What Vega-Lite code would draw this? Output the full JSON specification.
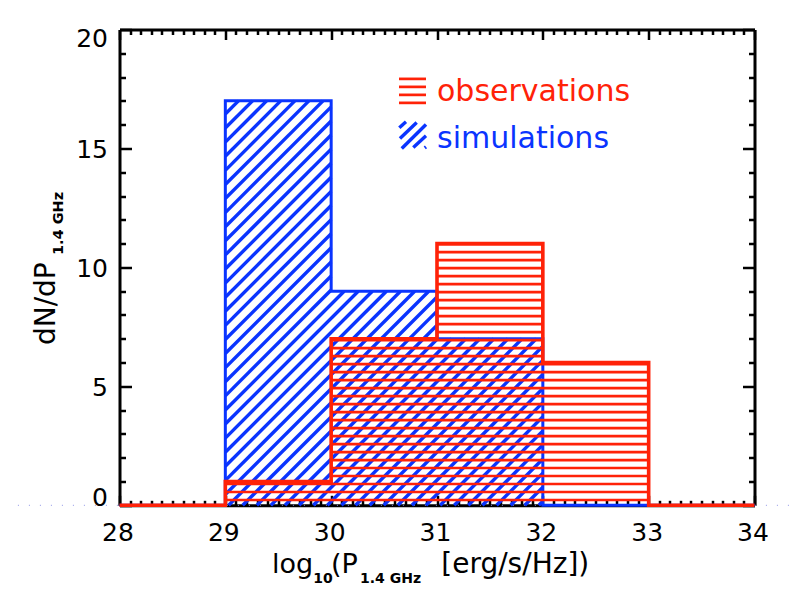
{
  "$schema": "https://vega.github.io/schema/vega-lite/v6.json",
  "background": "white",
  "autosize": "none",
  "padding": {"left": 119.5, "top": 29.5, "right": 38.5, "bottom": 89.7},
  "width": 635,
  "height": 475.8,
  "datasets": {
    "hist": [
      {"series": "simulations", "bin": 28, "count": 0},
      {"series": "simulations", "bin": 29, "count": 17},
      {"series": "simulations", "bin": 30, "count": 9},
      {"series": "simulations", "bin": 31, "count": 7},
      {"series": "simulations", "bin": 32, "count": 0},
      {"series": "simulations", "bin": 33, "count": 0},
      {"series": "simulations", "bin": 34, "count": 0},
      {"series": "observations", "bin": 28, "count": 0},
      {"series": "observations", "bin": 29, "count": 1},
      {"series": "observations", "bin": 30, "count": 7},
      {"series": "observations", "bin": 31, "count": 11},
      {"series": "observations", "bin": 32, "count": 6},
      {"series": "observations", "bin": 33, "count": 0},
      {"series": "observations", "bin": 34, "count": 0}
    ],
    "hatchBlue": [
      {"x": 29, "y": 16.45, "x2": 29.124, "y2": 17},
      {"x": 29, "y": 15.857, "x2": 29.257, "y2": 17},
      {"x": 29, "y": 15.265, "x2": 29.39, "y2": 17},
      {"x": 29, "y": 14.672, "x2": 29.523, "y2": 17},
      {"x": 29, "y": 14.08, "x2": 29.657, "y2": 17},
      {"x": 29, "y": 13.487, "x2": 29.79, "y2": 17},
      {"x": 29, "y": 12.895, "x2": 29.923, "y2": 17},
      {"x": 29, "y": 12.303, "x2": 30, "y2": 16.749},
      {"x": 29, "y": 11.71, "x2": 30, "y2": 16.157},
      {"x": 29, "y": 11.118, "x2": 30, "y2": 15.564},
      {"x": 29, "y": 10.525, "x2": 30, "y2": 14.972},
      {"x": 29, "y": 9.933, "x2": 30, "y2": 14.379},
      {"x": 29, "y": 9.34, "x2": 30, "y2": 13.787},
      {"x": 29, "y": 8.748, "x2": 30, "y2": 13.195},
      {"x": 29, "y": 8.155, "x2": 30, "y2": 12.602},
      {"x": 29, "y": 7.563, "x2": 30, "y2": 12.01},
      {"x": 29, "y": 6.971, "x2": 30, "y2": 11.417},
      {"x": 29, "y": 6.378, "x2": 30, "y2": 10.825},
      {"x": 29, "y": 5.786, "x2": 30, "y2": 10.232},
      {"x": 29, "y": 5.193, "x2": 30, "y2": 9.64},
      {"x": 29, "y": 4.601, "x2": 30, "y2": 9.048},
      {"x": 29, "y": 4.008, "x2": 30.123, "y2": 9},
      {"x": 29, "y": 3.416, "x2": 30.256, "y2": 9},
      {"x": 29, "y": 2.824, "x2": 30.389, "y2": 9},
      {"x": 29, "y": 2.231, "x2": 30.522, "y2": 9},
      {"x": 29, "y": 1.639, "x2": 30.655, "y2": 9},
      {"x": 29, "y": 1.046, "x2": 30.789, "y2": 9},
      {"x": 29, "y": 0.454, "x2": 30.922, "y2": 9},
      {"x": 29.031, "y": 0, "x2": 31, "y2": 8.755},
      {"x": 29.164, "y": 0, "x2": 31, "y2": 8.163},
      {"x": 29.298, "y": 0, "x2": 31, "y2": 7.57},
      {"x": 29.431, "y": 0, "x2": 31.005, "y2": 7},
      {"x": 29.564, "y": 0, "x2": 31.138, "y2": 7},
      {"x": 29.697, "y": 0, "x2": 31.272, "y2": 7},
      {"x": 29.831, "y": 0, "x2": 31.405, "y2": 7},
      {"x": 29.964, "y": 0, "x2": 31.538, "y2": 7},
      {"x": 30.097, "y": 0, "x2": 31.671, "y2": 7},
      {"x": 30.23, "y": 0, "x2": 31.804, "y2": 7},
      {"x": 30.364, "y": 0, "x2": 31.938, "y2": 7},
      {"x": 30.497, "y": 0, "x2": 32, "y2": 6.685},
      {"x": 30.63, "y": 0, "x2": 32, "y2": 6.092},
      {"x": 30.763, "y": 0, "x2": 32, "y2": 5.5},
      {"x": 30.896, "y": 0, "x2": 32, "y2": 4.908},
      {"x": 31.03, "y": 0, "x2": 32, "y2": 4.315},
      {"x": 31.163, "y": 0, "x2": 32, "y2": 3.723},
      {"x": 31.296, "y": 0, "x2": 32, "y2": 3.13},
      {"x": 31.429, "y": 0, "x2": 32, "y2": 2.538},
      {"x": 31.563, "y": 0, "x2": 32, "y2": 1.945},
      {"x": 31.696, "y": 0, "x2": 32, "y2": 1.353},
      {"x": 31.829, "y": 0, "x2": 32, "y2": 0.761},
      {"x": 31.962, "y": 0, "x2": 32, "y2": 0.168},
      {"x": 30.644, "y": 15.866, "x2": 30.707, "y2": 16.118},
      {"x": 30.65, "y": 15.42, "x2": 30.808, "y2": 16.092},
      {"x": 30.667, "y": 15, "x2": 30.896, "y2": 16.008},
      {"x": 30.776, "y": 15.042, "x2": 30.896, "y2": 15.529},
      {"x": 30.884, "y": 15.021, "x2": 30.896, "y2": 15.063}
    ],
    "hatchRed": [
      {"x": 29, "x2": 33, "y": 0.223},
      {"x": 29, "x2": 33, "y": 0.559},
      {"x": 29, "x2": 33, "y": 0.895},
      {"x": 30, "x2": 33, "y": 1.231},
      {"x": 30, "x2": 33, "y": 1.567},
      {"x": 30, "x2": 33, "y": 1.903},
      {"x": 30, "x2": 33, "y": 2.239},
      {"x": 30, "x2": 33, "y": 2.575},
      {"x": 30, "x2": 33, "y": 2.911},
      {"x": 30, "x2": 33, "y": 3.247},
      {"x": 30, "x2": 33, "y": 3.583},
      {"x": 30, "x2": 33, "y": 3.919},
      {"x": 30, "x2": 33, "y": 4.255},
      {"x": 30, "x2": 33, "y": 4.591},
      {"x": 30, "x2": 33, "y": 4.927},
      {"x": 30, "x2": 33, "y": 5.263},
      {"x": 30, "x2": 33, "y": 5.599},
      {"x": 30, "x2": 33, "y": 5.935},
      {"x": 30, "x2": 32, "y": 6.271},
      {"x": 30, "x2": 32, "y": 6.607},
      {"x": 30, "x2": 32, "y": 6.943},
      {"x": 31, "x2": 32, "y": 7.279},
      {"x": 31, "x2": 32, "y": 7.615},
      {"x": 31, "x2": 32, "y": 7.951},
      {"x": 31, "x2": 32, "y": 8.287},
      {"x": 31, "x2": 32, "y": 8.623},
      {"x": 31, "x2": 32, "y": 8.959},
      {"x": 31, "x2": 32, "y": 9.295},
      {"x": 31, "x2": 32, "y": 9.631},
      {"x": 31, "x2": 32, "y": 9.967},
      {"x": 31, "x2": 32, "y": 10.303},
      {"x": 31, "x2": 32, "y": 10.639},
      {"x": 31, "x2": 32, "y": 10.975},
      {"x": 30.641, "x2": 30.896, "y": 17.924},
      {"x": 30.641, "x2": 30.896, "y": 17.588},
      {"x": 30.641, "x2": 30.896, "y": 17.252},
      {"x": 30.641, "x2": 30.896, "y": 16.916}
    ]
  },
  "resolve": {"axis": {"x": "independent", "y": "independent"}},
  "layer": [
    {
      "data": {"values": [{"x": 27.04, "x2": 34.34, "y": 0}]},
      "mark": {"type": "rule", "color": "#8f95e6", "strokeWidth": 1, "strokeDash": [1, 10]},
      "encoding": {
        "x": {
          "field": "x",
          "type": "quantitative",
          "scale": {"domain": [28, 34], "nice": false, "zero": false},
          "axis": {
            "orient": "bottom",
            "title": null,
            "values": [28,28.1,28.2,28.3,28.4,28.5,28.6,28.7,28.8,28.9,29,29.1,29.2,29.3,29.4,29.5,29.6,29.7,29.8,29.9,30,30.1,30.2,30.3,30.4,30.5,30.6,30.7,30.8,30.9,31,31.1,31.2,31.3,31.4,31.5,31.6,31.7,31.8,31.9,32,32.1,32.2,32.3,32.4,32.5,32.6,32.7,32.8,32.9,33,33.1,33.2,33.3,33.4,33.5,33.6,33.7,33.8,33.9,34],
            "grid": false,
            "domainColor": "black",
            "domainWidth": 3,
            "tickColor": "black",
            "tickWidth": 2.5,
            "tickSize": {"condition": {"test": "abs(datum.value - round(datum.value)) < 0.01", "value": -10}, "value": -5},
            "labelExpr": "abs(datum.value - round(datum.value)) < 0.01 ? format(round(datum.value), 'd') : ''",
            "labelFont": "DejaVu Sans",
            "labelFontSize": 25,
            "labelColor": "black",
            "labelOverlap": false,
            "labelFlush": false,
            "labelPadding": 25,
            "labelOffset": -2
          }
        },
        "x2": {"field": "x2"},
        "y": {
          "field": "y",
          "type": "quantitative",
          "scale": {"domain": [0, 20], "nice": false, "zero": false},
          "axis": {
            "orient": "left",
            "title": null,
            "values": [0,1,2,3,4,5,6,7,8,9,10,11,12,13,14,15,16,17,18,19,20],
            "grid": false,
            "domainColor": "black",
            "domainWidth": 3,
            "tickColor": "black",
            "tickWidth": 2.5,
            "tickSize": {"condition": {"test": "datum.value % 5 == 0", "value": -12}, "value": -6},
            "labelExpr": "datum.value % 5 == 0 ? format(datum.value, 'd') : ''",
            "labelFont": "DejaVu Sans",
            "labelFontSize": 25,
            "labelColor": "black",
            "labelOverlap": false,
            "labelFlush": false,
            "labelPadding": 24,
            "labelOffset": {"condition": [{"test": "datum.value == 20", "value": 9}, {"test": "datum.value == 0", "value": -8}], "value": 1}
          }
        }
      }
    },
    {
      "data": {"values": [{"x": 28, "y": 0}]},
      "mark": {"type": "point", "opacity": 0},
      "encoding": {
        "x": {
          "field": "x",
          "type": "quantitative",
          "axis": {
            "orient": "top",
            "title": null,
            "values": [28,28.1,28.2,28.3,28.4,28.5,28.6,28.7,28.8,28.9,29,29.1,29.2,29.3,29.4,29.5,29.6,29.7,29.8,29.9,30,30.1,30.2,30.3,30.4,30.5,30.6,30.7,30.8,30.9,31,31.1,31.2,31.3,31.4,31.5,31.6,31.7,31.8,31.9,32,32.1,32.2,32.3,32.4,32.5,32.6,32.7,32.8,32.9,33,33.1,33.2,33.3,33.4,33.5,33.6,33.7,33.8,33.9,34],
            "grid": false,
            "labels": false,
            "domainColor": "black",
            "domainWidth": 3,
            "tickColor": "black",
            "tickWidth": 2.5,
            "tickSize": {"condition": {"test": "abs(datum.value - round(datum.value)) < 0.01", "value": -10}, "value": -5}
          }
        },
        "y": {
          "field": "y",
          "type": "quantitative",
          "axis": {
            "orient": "right",
            "title": null,
            "values": [0,1,2,3,4,5,6,7,8,9,10,11,12,13,14,15,16,17,18,19,20],
            "grid": false,
            "labels": false,
            "domainColor": "black",
            "domainWidth": 3,
            "tickColor": "black",
            "tickWidth": 2.5,
            "tickSize": {"condition": {"test": "datum.value % 5 == 0", "value": -12}, "value": -6}
          }
        }
      }
    },
    {
      "data": {"name": "hatchBlue"},
      "mark": {"type": "rule", "color": "#0a34ff", "strokeWidth": 3.4},
      "encoding": {
        "x": {"field": "x", "type": "quantitative", "axis": null},
        "x2": {"field": "x2"},
        "y": {"field": "y", "type": "quantitative", "axis": null},
        "y2": {"field": "y2"}
      }
    },
    {
      "data": {"name": "hist"},
      "transform": [{"filter": "datum.series == 'simulations'"}],
      "mark": {"type": "line", "interpolate": "step-after", "color": "#0a34ff", "strokeWidth": 3},
      "encoding": {
        "x": {"field": "bin", "type": "quantitative", "axis": null},
        "y": {"field": "count", "type": "quantitative", "axis": null}
      }
    },
    {
      "data": {"name": "hatchRed"},
      "mark": {"type": "rule", "color": "#ff2208", "strokeWidth": 2.7},
      "encoding": {
        "x": {"field": "x", "type": "quantitative", "axis": null},
        "x2": {"field": "x2"},
        "y": {"field": "y", "type": "quantitative", "axis": null}
      }
    },
    {
      "data": {"name": "hist"},
      "transform": [{"filter": "datum.series == 'observations'"}],
      "mark": {"type": "line", "interpolate": "step-after", "color": "#ff2208", "strokeWidth": 3.6},
      "encoding": {
        "x": {"field": "bin", "type": "quantitative", "axis": null},
        "y": {"field": "count", "type": "quantitative", "axis": null}
      }
    },
    {
      "data": {"values": [{"x": 31, "y": 17, "text": "observations"}]},
      "mark": {"type": "text", "align": "left", "baseline": "alphabetic", "font": "DejaVu Sans", "fontSize": 30, "color": "#ff2208"},
      "encoding": {
        "x": {"field": "x", "type": "quantitative", "axis": null},
        "y": {"field": "y", "type": "quantitative", "axis": null},
        "text": {"field": "text"}
      }
    },
    {
      "data": {"values": [{"x": 31, "y": 15, "text": "simulations"}]},
      "mark": {"type": "text", "align": "left", "baseline": "alphabetic", "font": "DejaVu Sans", "fontSize": 30, "color": "#0a34ff"},
      "encoding": {
        "x": {"field": "x", "type": "quantitative", "axis": null},
        "y": {"field": "y", "type": "quantitative", "axis": null},
        "text": {"field": "text"}
      }
    },
    {
      "data": {"values": [
        {"x": 29.441, "y": -2.845, "text": "log"},
        {"x": 29.998, "y": -2.845, "text": "(P"}
      ]},
      "mark": {"type": "text", "align": "left", "baseline": "alphabetic", "font": "DejaVu Sans", "fontSize": 27, "color": "black"},
      "encoding": {
        "x": {"field": "x", "type": "quantitative", "axis": null},
        "y": {"field": "y", "type": "quantitative", "axis": null},
        "text": {"field": "text"}
      }
    },
    {
      "data": {"values": [{"x": 31.04, "y": -2.845, "text": "[erg/s/Hz])"}]},
      "mark": {"type": "text", "align": "left", "baseline": "alphabetic", "font": "DejaVu Sans", "fontSize": 28, "color": "black"},
      "encoding": {
        "x": {"field": "x", "type": "quantitative", "axis": null},
        "y": {"field": "y", "type": "quantitative", "axis": null},
        "text": {"field": "text"}
      }
    },
    {
      "data": {"values": [
        {"x": 29.83, "y": -3.252, "text": "10"},
        {"x": 30.273, "y": -3.252, "text": "1.4 GHz"}
      ]},
      "mark": {"type": "text", "align": "left", "baseline": "alphabetic", "font": "DejaVu Sans", "fontSize": 14, "fontWeight": "bold", "color": "black"},
      "encoding": {
        "x": {"field": "x", "type": "quantitative", "axis": null},
        "y": {"field": "y", "type": "quantitative", "axis": null},
        "text": {"field": "text"}
      }
    },
    {
      "data": {"values": [{"x": 27.391, "y": 6.735, "text": "dN/dP"}]},
      "mark": {"type": "text", "align": "left", "baseline": "alphabetic", "angle": 270, "font": "DejaVu Sans", "fontSize": 28, "color": "black"},
      "encoding": {
        "x": {"field": "x", "type": "quantitative", "axis": null},
        "y": {"field": "y", "type": "quantitative", "axis": null},
        "text": {"field": "text"}
      }
    },
    {
      "data": {"values": [{"x": 27.463, "y": 10.517, "text": "1.4 GHz"}]},
      "mark": {"type": "text", "align": "left", "baseline": "alphabetic", "angle": 270, "font": "DejaVu Sans", "fontSize": 14.5, "fontWeight": "bold", "color": "black"},
      "encoding": {
        "x": {"field": "x", "type": "quantitative", "axis": null},
        "y": {"field": "y", "type": "quantitative", "axis": null},
        "text": {"field": "text"}
      }
    }
  ],
  "config": {"view": {"stroke": null}}
}
